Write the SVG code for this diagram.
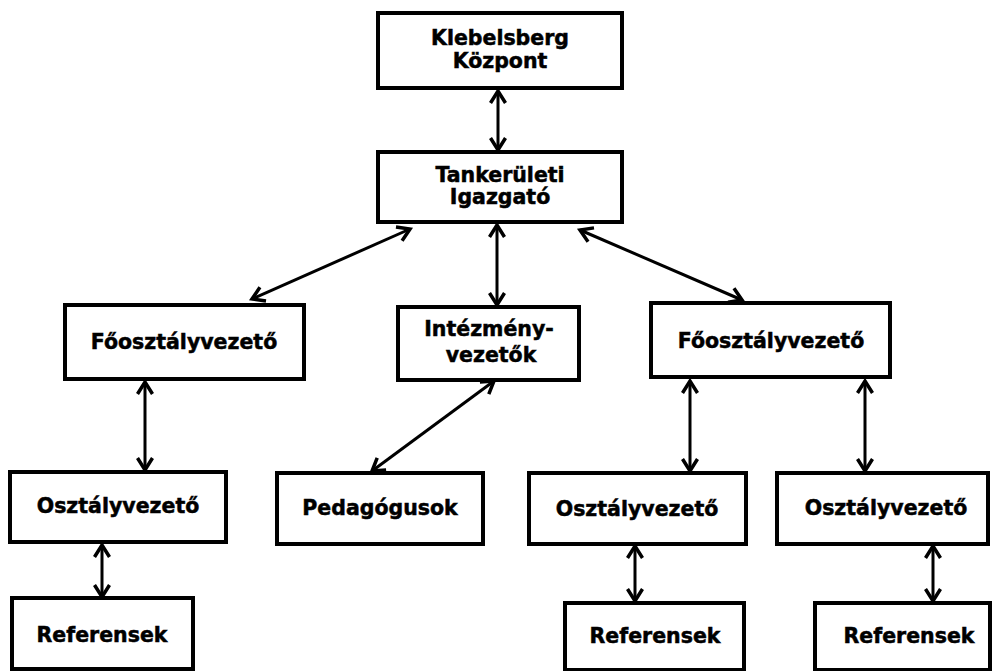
<svg xmlns="http://www.w3.org/2000/svg" width="992" height="671" viewBox="0 0 992 671">
<style>
.box rect{fill:#fff;stroke:#000;stroke-width:4}
.box text{font-family:"DejaVu Sans","Verdana",sans-serif;font-weight:bold;font-size:20.5px;fill:#000;stroke:#000;stroke-width:0.5;text-anchor:middle}
.conn line{stroke:#000;stroke-width:3;marker-start:url(#ah);marker-end:url(#ah)}
</style>
<defs>
<marker id="ah" markerUnits="userSpaceOnUse" viewBox="-16 -10 20 20" refX="0" refY="0" markerWidth="20" markerHeight="20" orient="auto-start-reverse">
<path d="M-12,-7.5 L0,0 L-12,7.5" fill="none" stroke="#000" stroke-width="3.5"/>
</marker>
</defs>
<rect width="992" height="671" fill="#fff"/>
<g class="conn" id="connectors">
<line x1="498" y1="91" x2="498" y2="150"/>
<line x1="410" y1="229" x2="252" y2="299"/>
<line x1="497" y1="225" x2="497" y2="305"/>
<line x1="580" y1="230" x2="742" y2="300"/>
<line x1="145" y1="382" x2="145" y2="470"/>
<line x1="494" y1="381" x2="372" y2="471"/>
<line x1="690" y1="381" x2="690" y2="471"/>
<line x1="865" y1="381" x2="865" y2="471"/>
<line x1="102" y1="545" x2="102" y2="597"/>
<line x1="635" y1="546" x2="635" y2="601"/>
<line x1="933" y1="546" x2="933" y2="601"/>
</g>
<g class="box" id="klebelsberg">
<rect x="378" y="13" width="244" height="75"/>
<text x="500" y="45">Klebelsberg</text>
<text x="500" y="68">Központ</text>
</g>
<g class="box" id="tankeruleti">
<rect x="378" y="152" width="244" height="70"/>
<text x="500" y="182">Tankerületi</text>
<text x="500" y="204">Igazgató</text>
</g>
<g class="box" id="foosztaly-left">
<rect x="65" y="305" width="239" height="74"/>
<text x="184" y="349">Főosztályvezető</text>
</g>
<g class="box" id="intezmeny">
<rect x="398" y="307" width="181" height="73"/>
<text x="489" y="336">Intézmény-</text>
<text x="491" y="362">vezetők</text>
</g>
<g class="box" id="foosztaly-right">
<rect x="651" y="303" width="239" height="74"/>
<text x="771" y="348">Főosztályvezető</text>
</g>
<g class="box" id="osztaly-left">
<rect x="10" y="472" width="216" height="70"/>
<text x="118" y="513">Osztályvezető</text>
</g>
<g class="box" id="pedagogusok">
<rect x="277" y="473" width="206" height="71"/>
<text x="380" y="515">Pedagógusok</text>
</g>
<g class="box" id="osztaly-mid">
<rect x="529" y="473" width="217" height="71"/>
<text x="637" y="516">Osztályvezető</text>
</g>
<g class="box" id="osztaly-right">
<rect x="777" y="473" width="211" height="71"/>
<text x="886" y="515">Osztályvezető</text>
</g>
<g class="box" id="referensek-left">
<rect x="12" y="598" width="181" height="71"/>
<text x="102" y="642">Referensek</text>
</g>
<g class="box" id="referensek-mid">
<rect x="565" y="603" width="179" height="67"/>
<text x="655" y="643">Referensek</text>
</g>
<g class="box" id="referensek-right">
<rect x="815" y="603" width="175" height="67"/>
<text x="909" y="643">Referensek</text>
</g>
</svg>
